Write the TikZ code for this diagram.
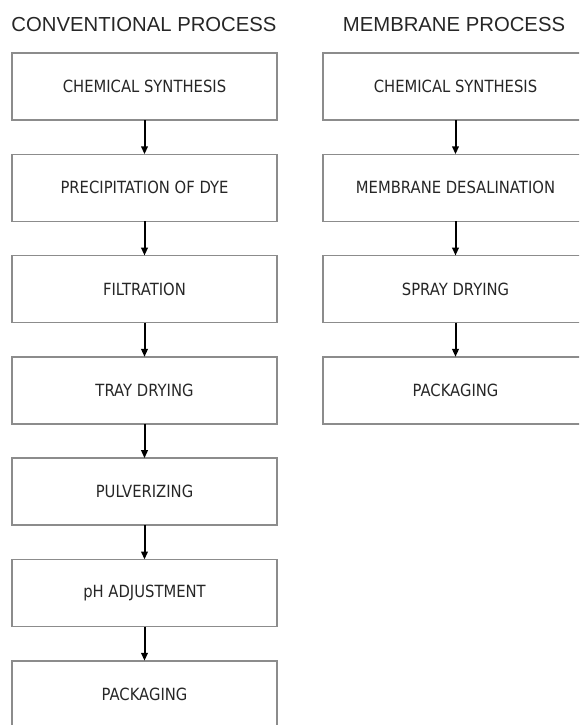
\documentclass[tikz,border=0pt]{standalone}
\usepackage{fontspec}
\setmainfont{Liberation Sans}
\newfontfamily\boxfont[FakeStretch=0.88]{DejaVu Sans}
\usetikzlibrary{arrows.meta,positioning}
\tikzset{every picture/.style={line width=1.2pt}}
\tikzset{
  stepbox/.style={draw=black!45, line width=1.6pt, minimum width=265pt, minimum height=67pt,
    inner sep=0pt, outer sep=0pt, text=black!85, font=\boxfont\fontsize{16.8}{18}\selectfont},
  title/.style={anchor=base, text=black!85, font=\fontsize{20.3}{22}\selectfont},
  flow/.style={-{Triangle[length=8pt,width=6.5pt]}, black, line width=2pt}
}

\begin{document}
\begin{tikzpicture}[x=1pt,y=-1pt,node distance=34.3pt]
    \useasboundingbox (0,0) rectangle (579,725);
    \clip (0,0) rectangle (579,725);

    % titles
    \node[title] (convtitle) at (144,32) {CONVENTIONAL PROCESS};
    \node[title] (memtitle) at (454,32) {MEMBRANE PROCESS};

    % conventional process
    \node[stepbox] (synth) at (144.5,86.5) {CHEMICAL SYNTHESIS};
    \node[stepbox, below=of synth] (precip) {PRECIPITATION OF DYE};
    \node[stepbox, below=of precip] (filter) {FILTRATION};
    \node[stepbox, below=of filter] (tray) {TRAY DRYING};
    \node[stepbox, below=of tray] (pulver) {PULVERIZING};
    \node[stepbox, below=of pulver] (ph) {pH ADJUSTMENT};
    \node[stepbox, below=of ph] (pack) {PACKAGING};

    \draw[flow] (synth) -- (precip);
    \draw[flow] (precip) -- (filter);
    \draw[flow] (filter) -- (tray);
    \draw[flow] (tray) -- (pulver);
    \draw[flow] (pulver) -- (ph);
    \draw[flow] (ph) -- (pack);

    % membrane process
    \node[stepbox] (msynth) at (455.5,86.5) {CHEMICAL SYNTHESIS};
    \node[stepbox, below=of msynth] (desal) {MEMBRANE DESALINATION};
    \node[stepbox, below=of desal] (spray) {SPRAY DRYING};
    \node[stepbox, below=of spray] (mpack) {PACKAGING};

    \draw[flow] (msynth) -- (desal);
    \draw[flow] (desal) -- (spray);
    \draw[flow] (spray) -- (mpack);
\end{tikzpicture}
\end{document}
